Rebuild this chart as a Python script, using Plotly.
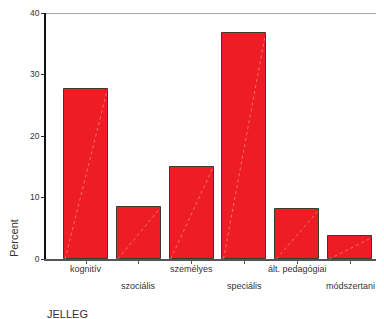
import plotly.graph_objects as go

categories = ["kognitív", "szociális", "személyes", "speciális", "ált. pedagógiai", "módszertani"]
percent = [27.6, 8.5, 15.0, 36.8, 8.1, 3.7]
y_ticks = [0, 10, 20, 30, 40]

BAR_W = 0.833
idx = list(range(len(categories)))

fig = go.Figure()
fig.add_trace(go.Bar(
    x=idx, y=percent, width=BAR_W,
    marker=dict(color="#EE1D24", line=dict(color="#3a3a3a", width=1)),
    hoverinfo="skip",
))

# diagonal light lines inside bars (SPSS style)
for i, v in zip(idx, percent):
    fig.add_shape(type="line", xref="x", yref="y",
                  x0=i - BAR_W / 2 + 0.02, y0=0, x1=i + BAR_W / 2 - 0.02, y1=v - 0.3,
                  line=dict(color="rgba(255,190,190,0.7)", width=0.7, dash="dot"))

# staggered category labels
for i, c in zip(idx, categories):
    fig.add_annotation(x=i, y=-0.040 if i % 2 == 0 else -0.109, xref="x", yref="paper",
                       yanchor="middle", text=c, showarrow=False,
                       font=dict(size=9, color="#333333", family="Arial"))

# top border line
fig.add_shape(type="line", xref="paper", yref="y", x0=0, x1=1, y0=max(y_ticks), y1=max(y_ticks),
              layer="above", line=dict(color="#888888", width=1.5))

fig.add_annotation(text="Percent", xref="paper", yref="paper", x=-0.0947, y=0.085,
                   textangle=-90, showarrow=False, font=dict(size=11, color="#333333", family="Arial"),
                   xanchor="center", yanchor="middle")
fig.add_annotation(text="JELLEG", xref="paper", yref="paper", x=-0.003, y=-0.224,
                   showarrow=False, font=dict(size=11, color="#333333", family="Arial"),
                   xanchor="left", yanchor="middle")

fig.update_layout(
    width=376, height=311,
    margin=dict(l=38, r=0, t=3, b=60),
    plot_bgcolor="white", paper_bgcolor="white",
    showlegend=False, bargap=0,
    font=dict(family="Arial", color="#333333"),
    xaxis=dict(range=[-0.758, 5.644], tickvals=idx, ticktext=[""] * len(idx),
               ticks="outside", ticklen=3, tickcolor="#555555",
               showline=True, linecolor="#555555", linewidth=1.5,
               showgrid=False, zeroline=False, fixedrange=True),
    yaxis=dict(range=[0, 40], tickvals=y_ticks, ticks="outside", ticklen=3,
               tickcolor="#333333", tickfont=dict(size=8.5, color="#333333"),
               ticklabeloverflow="allow",
               showline=True, linecolor="#111111", linewidth=1.5,
               showgrid=False, zeroline=False, fixedrange=True),
)

fig.write_html("out.html")
